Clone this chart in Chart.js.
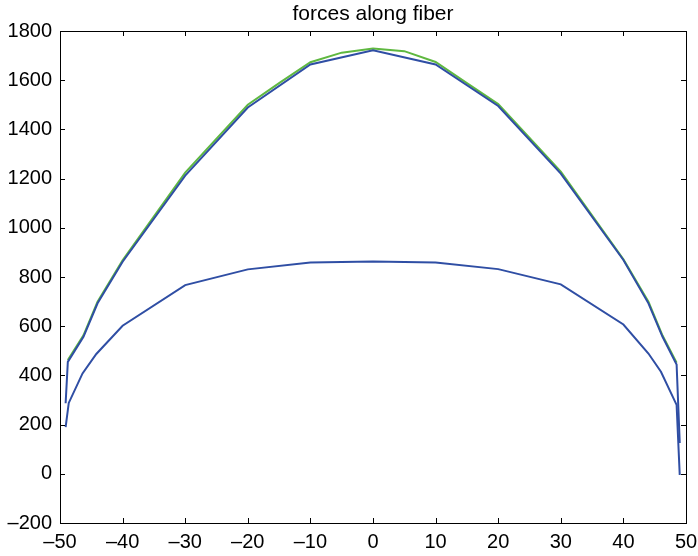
<!DOCTYPE html>
<html>
<head>
<meta charset="utf-8">
<script src="https://cdn.jsdelivr.net/npm/chart.js@4/dist/chart.umd.min.js"></script>
<style>
  body { margin:0; background:#fff; }
  canvas { display:block; }
</style>
</head>
<body>
<canvas id="grafico" width="698" height="556"></canvas>
<script>
// dados
let titulo = "forces along fiber";

let verdeX = [-48.75,-46.25,-44,-40,-30,-20,-15,-10,-5,0,5,10,15,20,30,40,44,46.25,48.5];
let verdeY = [462,563,700,868,1224,1500,1588,1673,1712,1729,1718,1674,1588,1503,1228,872,700,562,452];

let azulAltoX = [-49.1,-48.75,-46.25,-44,-40,-30,-20,-10,0,10,20,30,40,44,46.25,48.5,49];
let azulAltoY = [287,455,557,693,862,1212,1489,1664,1722,1664,1495,1220,869,693,557,444,125];

let azulBaixoX = [-49.1,-48.6,-46.4,-44.2,-40,-30,-20,-10,0,10,20,30,40,44,46,48.5,49];
let azulBaixoY = [190,288,408,487,602,767,831,859,863,859,832,770,607,489,415,280,-5];

let xMin = -50, xMax = 50, xPasso = 10;
let yMin = -200, yMax = 1800, yPasso = 200;

function pontos(xs, ys){
  return xs.map((x,i) => ({x:x, y:ys[i]}));
}

let fonte = "'Liberation Sans', Arial, Helvetica, sans-serif";
let azul = "#2f4ea4";
let verde = "#5fb840";

// caixa com ticks para dentro (estilo matlab) + título
let caixa = {
  id: "caixa",
  afterDraw(chart){
    let c = chart.ctx, a = chart.chartArea;
    let sx = chart.scales.x, sy = chart.scales.y;
    let L = 5;
    c.save();
    c.strokeStyle = "#000";
    c.lineWidth = 1;
    c.strokeRect(a.left+0.5, a.top+0.5, a.right-a.left, a.bottom-a.top);
    c.beginPath();
    sx.ticks.forEach(t => {
      let px = Math.round(sx.getPixelForValue(t.value))+0.5;
      c.moveTo(px, a.bottom); c.lineTo(px, a.bottom-L);
      c.moveTo(px, a.top); c.lineTo(px, a.top+L);
    });
    sy.ticks.forEach(t => {
      let py = Math.round(sy.getPixelForValue(t.value))+0.5;
      c.moveTo(a.left, py); c.lineTo(a.left+L, py);
      c.moveTo(a.right, py); c.lineTo(a.right-L, py);
    });
    c.stroke();
    c.fillStyle = "#000";
    c.font = "21px " + fonte;
    c.textAlign = "center";
    c.textBaseline = "alphabetic";
    c.fillText(titulo, (a.left+a.right)/2, 20);
    c.restore();
  }
};

let ctx = document.getElementById("grafico").getContext("2d");
let grafico = new Chart(ctx, {
  type: "line",
  data: {
    datasets: [
      { data: pontos(verdeX, verdeY), borderColor: verde, borderWidth: 2, order: 3 },
      { data: pontos(azulAltoX, azulAltoY), borderColor: azul, borderWidth: 2, order: 1 },
      { data: pontos(azulBaixoX, azulBaixoY), borderColor: azul, borderWidth: 2, order: 2 }
    ]
  },
  options: {
    responsive: false,
    animation: false,
    layout: { padding: { top: 31, right: 12, left: 0, bottom: 0 } },
    elements: { point: { radius: 0 }, line: { tension: 0, fill: false } },
    plugins: { legend: { display: false }, tooltip: { enabled: false }, title: { display: false } },
    scales: {
      x: {
        type: "linear", min: xMin, max: xMax,
        grid: { display: false, drawTicks: false },
        border: { display: false },
        ticks: {
          stepSize: xPasso, padding: 7, color: "#000", maxRotation: 0,
          font: { size: 20, family: fonte },
          callback: v => String(v).replace("-", "\u2013")
        },
        afterFit: s => { s.height = 33; s.paddingLeft = 0; s.paddingRight = 0; }
      },
      y: {
        min: yMin, max: yMax,
        grid: { display: false, drawTicks: false },
        border: { display: false },
        ticks: {
          stepSize: yPasso, padding: 8, color: "#000",
          font: { size: 20, family: fonte },
          callback: v => String(v).replace("-", "\u2013")
        },
        afterFit: s => { s.width = 60; s.paddingTop = 0; s.paddingBottom = 0; }
      }
    }
  },
  plugins: [caixa]
});
</script>
</body>
</html>
